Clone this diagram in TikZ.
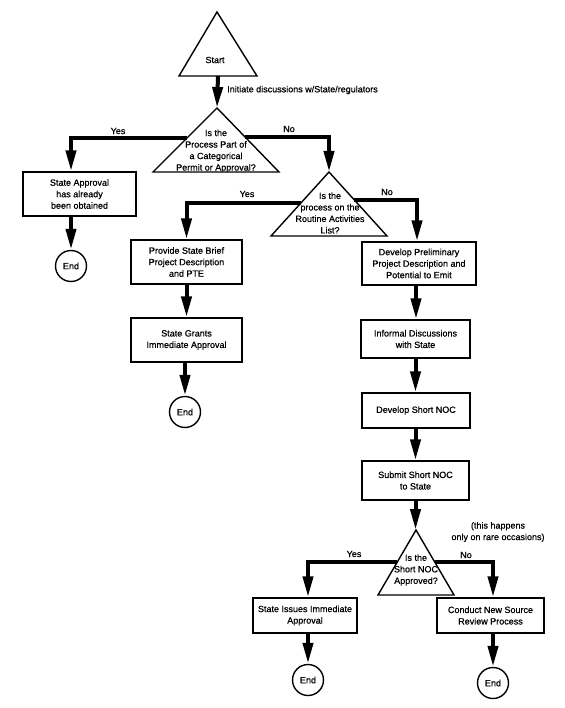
\documentclass[tikz,border=0pt]{standalone}
\usepackage{fontspec}
\setmainfont{Liberation Sans}[FakeBold=0.7]
\usetikzlibrary{arrows.meta,calc}
\begin{document}
\begin{tikzpicture}[x=1pt,y=-1pt,
  every node/.style={font=\fontsize{9}{11.5}\selectfont, inner sep=0pt},
  box/.style={draw, line width=1.4pt, align=center, fill=white},
  endc/.style={draw, circle, line width=1.4pt, minimum size=31pt},
  tri/.style={draw, line width=1.4pt, line join=miter},
  ttext/.style={align=center},
  arr/.style={line width=4pt, line join=miter, -{Triangle[length=21pt,width=10pt]}}]
\fill[white] (0,0) rectangle (564,708);
\path[use as bounding box] (0,0) rectangle (564,708);

% triangles (decision / start shapes)
\coordinate (t1a) at (217,12);  \coordinate (t1l) at (179,76);  \coordinate (t1r) at (257,76);
\coordinate (t2a) at (217,108); \coordinate (t2l) at (153,172); \coordinate (t2r) at (279,172);
\coordinate (t3a) at (329,172); \coordinate (t3l) at (271,236); \coordinate (t3r) at (387,236);
\coordinate (t4a) at (416,530); \coordinate (t4l) at (378,595); \coordinate (t4r) at (454,595);
\draw[tri] (t1a) -- (t1l) -- (t1r) -- cycle;
\draw[tri] (t2a) -- (t2l) -- (t2r) -- cycle;
\draw[tri] (t3a) -- (t3l) -- (t3r) -- cycle;
\draw[tri] (t4a) -- (t4l) -- (t4r) -- cycle;
\coordinate (t1b) at ($(t1l)!0.5!(t1r)$);
\coordinate (t2y) at ($(t2a)!0.469!(t2l)$);
\coordinate (t2n) at ($(t2a)!0.453!(t2r)$);
\coordinate (t3y) at ($(t3a)!0.484!(t3l)$);
\coordinate (t3n) at ($(t3a)!0.4375!(t3r)$);
\coordinate (t4y) at ($(t4a)!0.49!(t4l)$);
\coordinate (t4n) at ($(t4a)!0.49!(t4r)$);

\node (start) at (215,60) {Start};
\node[ttext] (q1) at (216,151) {Is the\\Process Part of\\a Categorical\\Permit or Approval?};
\node[ttext] (q2) at (330,213) {Is the\\process on the\\Routine Activities\\List?};
\node[ttext] (q3) at (416,570) {Is the\\Short NOC\\Approved?};

% boxes
\node[box, minimum width=113pt, minimum height=44pt] (b1) at (79.5,194) {State Approval\\has already\\been obtained};
\node[box, minimum width=111pt, minimum height=44pt] (b2) at (186.5,262) {Provide State Brief\\Project Description\\and PTE};
\node[box, minimum width=111pt, minimum height=44pt] (b3) at (186.5,340) {State Grants\\Immediate Approval};
\node[box, minimum width=114pt, minimum height=43pt] (b4) at (419,263.5) {Develop Preliminary\\Project Description and\\Potential to Emit};
\node[box, minimum width=109pt, minimum height=38pt] (b5) at (415.5,339) {Informal Discussions\\with State};
\node[box, minimum width=108pt, minimum height=35pt] (b6) at (416,410.5) {Develop Short NOC};
\node[box, minimum width=107pt, minimum height=39pt] (b7) at (415.5,480.5) {Submit Short NOC\\to State};
\node[box, minimum width=104pt, minimum height=35pt] (b8) at (305,615.5) {State Issues Immediate\\Approval};
\node[box, minimum width=107pt, minimum height=35pt] (b9) at (490.5,615.5) {Conduct New Source\\Review Process};

% end circles
\node[endc] (e1) at (71,266) {End};
\node[endc] (e2) at (185,412) {End};
\node[endc] (e3) at (308,680) {End};
\node[endc] (e4) at (493,683) {End};

% connectors
\draw[arr] (t1b) -- (t2a);
\draw[arr] (t2y) -| (b1.north -| e1);
\draw[arr] (t2n) -| (t3a);
\draw[arr] (b1.south -| e1) -- (e1.north);
\draw[arr] (t3y) -| (b2.north);
\draw[arr] (t3n) -| ([xshift=-2pt]b4.north);
\draw[arr] (b2.south) -- (b3.north);
\draw[arr] (b3.south -| e2) -- (e2.north);
\draw[arr] ([xshift=-3pt]b4.south) -- (b5.north -| t4a);
\draw[arr] (b5.south -| b7) -- (b6.north -| b7);
\draw[arr] (b6.south -| b7) -- (b7.north);
\draw[arr] (b7.south) -- (t4a -| b7.south);
\draw[arr] (t4y) -| (b8.north -| e3);
\draw[arr] (t4n) -| (b9.north -| e4);
\draw[arr] (b8.south -| e3) -- (e3.north);
\draw[arr] (b9.south -| e4) -- (e4.north);

% labels
\node[anchor=west] (l0) at (227,90) {Initiate discussions w/State/regulators};
\node (l1) at (118,131) {Yes};
\node (l2) at (289,129) {No};
\node (l3) at (247,194) {Yes};
\node (l4) at (387,192) {No};
\node (l5) at (354,554) {Yes};
\node (l6) at (466,555) {No};
\node[align=center] (note) at (498,532) {(this happens\\only on rare occasions)};
\end{tikzpicture}
\end{document}
